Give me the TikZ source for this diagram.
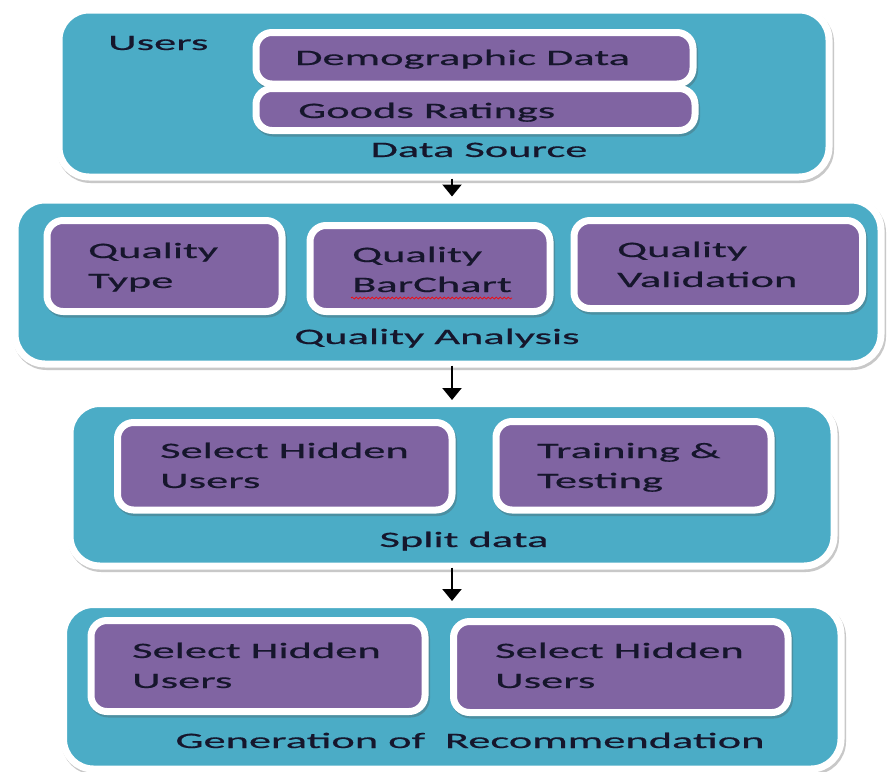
\documentclass[tikz,border=0pt]{standalone}
\usepackage{fontspec}
\newfontfamily\boxfont[FakeStretch=2.02,FakeBold=0.6]{Carlito}
\usetikzlibrary{arrows.meta,decorations.pathmorphing}
\definecolor{tealfill}{HTML}{4BACC6}
\definecolor{purplefill}{HTML}{8064A2}
\definecolor{labelink}{HTML}{16162C}

\begin{document}
\begin{tikzpicture}[x=1pt,y=-1pt,
  softshadow/.style={preaction={draw=black!70, fill=black!70, line width=7pt, opacity=0.30,
      transform canvas={xshift=1.5pt, yshift=-2.5pt}}},
  stage/.style={rectangle, softshadow, draw=white, line width=7pt, fill=tealfill,
      rounded corners=30pt, inner sep=0pt},
  task/.style={rectangle, softshadow, draw=white, line width=7pt, fill=purplefill,
      rounded corners=16pt, inner sep=0pt},
  lbl/.style={font=\boxfont\fontsize{22}{30}\selectfont, text=labelink, inner sep=0pt, align=left},
  flow/.style={draw=black, line width=2.2pt, -{Triangle[width=19pt,length=12pt]},
      shorten <=-2pt, shorten >=0pt}]

\fill[white] (0,0) rectangle (888,771);
\useasboundingbox (0,0) rectangle (888,771);

% stage containers
\node[stage, minimum width=770pt, minimum height=167pt] (ds) at (444,93.5) {};
\node[stage, minimum width=866pt, minimum height=164pt] (qa) at (448,282) {};
\node[stage, minimum width=764pt, minimum height=162.5pt] (sd) at (452,484.75) {};
\node[stage, minimum width=777.5pt, minimum height=164.5pt] (gr) at (452.25,686.75) {};

% data source
\node[task, minimum width=437pt, minimum height=51.5pt] (demo) at (474.5,58.25) {};
\node[task, minimum width=439pt, minimum height=42pt] (rate) at (475.5,109.5) {};
\node[lbl, anchor=base west] (users) at (108,50) {Users};
\node[lbl, anchor=base west] (demotxt) at (295,65) {Demographic Data};
\node[lbl, anchor=base west] (ratetxt) at (298,118) {Goods Ratings};
\node[lbl, anchor=base] (dstxt) at (479,157) {Data Source};

% quality analysis (two-line labels are placed by the baseline of their last line)
\node[task, minimum width=235pt, minimum height=91pt] (qtype) at (164.5,266) {};
\node[task, minimum width=240pt, minimum height=86pt] (qbar) at (430,268.5) {};
\node[task, minimum width=288.5pt, minimum height=88pt] (qval) at (718.25,264.5) {};
\node[lbl, anchor=base west] (qtypetxt) at (88,288) {Quality\\Type};
\node[lbl, anchor=base west] (qbartxt) at (352,292) {Quality\\BarChart};
\node[lbl, anchor=base west] (qvaltxt) at (617,287) {Quality\\Validation};
\node[lbl, anchor=base] (qatxt) at (437,344) {Quality Analysis};
\draw[red, line width=0.7pt, decorate, decoration={snake, amplitude=1pt, segment length=4pt}]
  (351,298) -- (512,298);

% split data
\node[task, minimum width=334.5pt, minimum height=87.5pt] (hid1) at (284.75,466.25) {};
\node[task, minimum width=275pt, minimum height=88.5pt] (train) at (633.5,465.75) {};
\node[lbl, anchor=base west] (hid1txt) at (160,488) {Select Hidden\\Users};
\node[lbl, anchor=base west] (traintxt) at (537,488) {Training \&\\Testing};
\node[lbl, anchor=base] (sdtxt) at (464,547) {Split data};

% generation of recommendation
\node[task, minimum width=334pt, minimum height=91pt] (hid2) at (258,666) {};
\node[task, minimum width=334.5pt, minimum height=91pt] (hid3) at (620.75,667) {};
\node[lbl, anchor=base west] (hid2txt) at (132,688) {Select Hidden\\Users};
\node[lbl, anchor=base west] (hid3txt) at (495,688) {Select Hidden\\Users};
\node[lbl, anchor=base] (grtxt) at (470,748) {Generation of\hspace{0.9em}Recommendation};

% flow between stages
\coordinate (spine) at (452,0);
\draw[flow] (ds.south -| spine) -- (qa.north -| spine);
\draw[flow] (qa.south -| spine) -- (sd.north -| spine);
\draw[flow] (sd.south -| spine) -- (gr.north -| spine);

\end{tikzpicture}
\end{document}
